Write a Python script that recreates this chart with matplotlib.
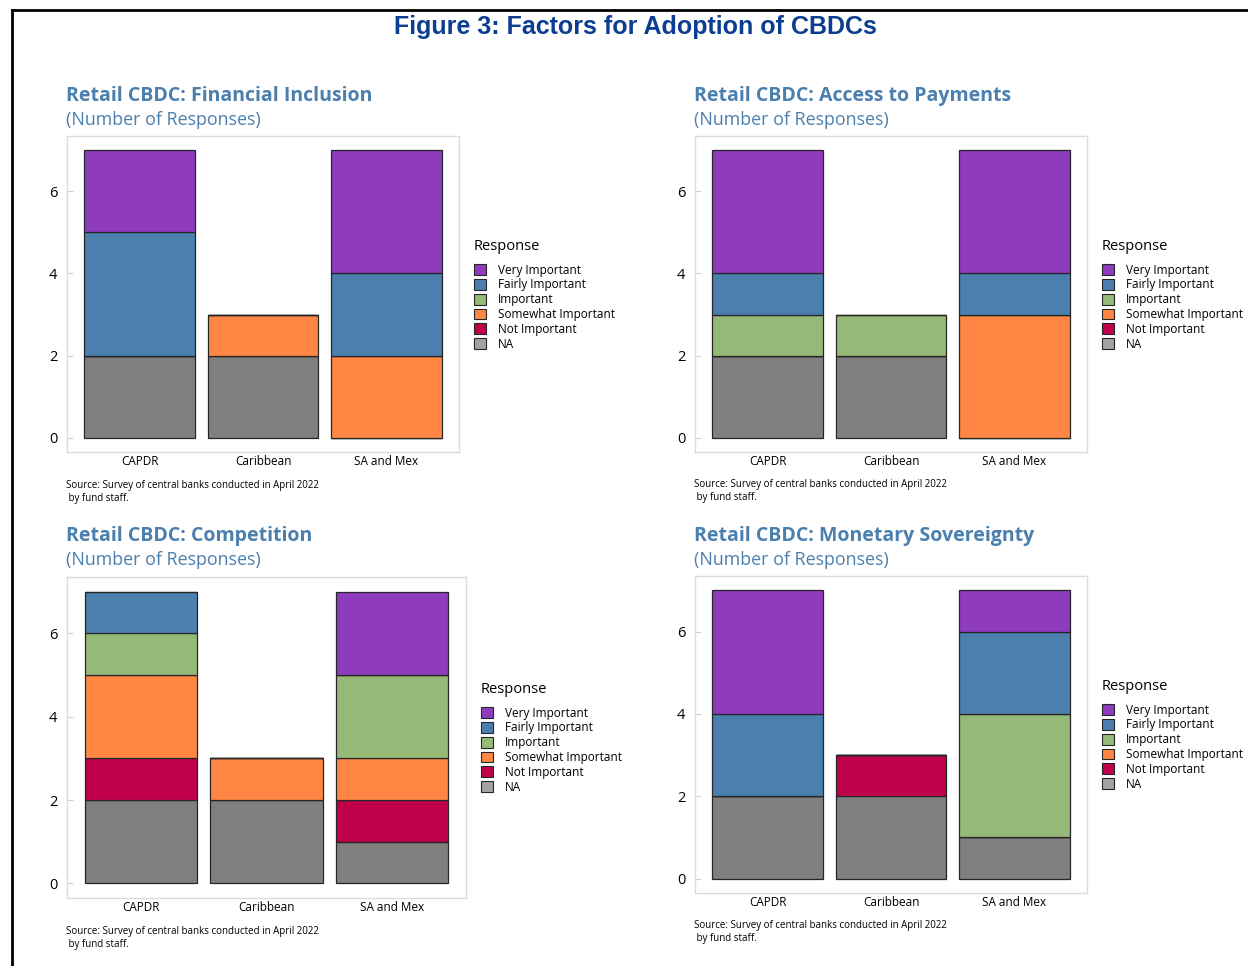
import matplotlib
matplotlib.use("Agg")
import matplotlib.pyplot as plt
from matplotlib.patches import Patch
from matplotlib.lines import Line2D

# data: number of responses per region, stacked bottom -> top
regions = ["CAPDR", "Caribbean", "SA and Mex"]
responses = ["NA", "Not Important", "Somewhat Important", "Important",
             "Fairly Important", "Very Important"]

inclusion_na = [2, 2, 0]
inclusion_not = [0, 0, 0]
inclusion_somewhat = [0, 1, 2]
inclusion_important = [0, 0, 0]
inclusion_fairly = [3, 0, 2]
inclusion_very = [2, 0, 3]

payments_na = [2, 2, 0]
payments_not = [0, 0, 0]
payments_somewhat = [0, 0, 3]
payments_important = [1, 1, 0]
payments_fairly = [1, 0, 1]
payments_very = [3, 0, 3]

competition_na = [2, 2, 1]
competition_not = [1, 0, 1]
competition_somewhat = [2, 1, 1]
competition_important = [1, 0, 2]
competition_fairly = [1, 0, 0]
competition_very = [0, 0, 2]

sovereignty_na = [2, 2, 1]
sovereignty_not = [0, 1, 0]
sovereignty_somewhat = [0, 0, 0]
sovereignty_important = [0, 0, 3]
sovereignty_fairly = [2, 0, 2]
sovereignty_very = [3, 0, 1]

colors = {
    "NA": "#7f7f7f",
    "Not Important": "#c0004a",
    "Somewhat Important": "#ff8743",
    "Important": "#96b978",
    "Fairly Important": "#4a7fae",
    "Very Important": "#8e3bbe",
}
legend_colors = dict(colors, NA="#a3a3a3")

W, H = 1248, 966
TITLE_BLUE = "#4a7fae"
FONT = "Open Sans"

fig = plt.figure(figsize=(W / 100, H / 100), dpi=100)


def fx(x):
    return x / W


def fy(y):
    return 1 - y / H


def panel(box, title, series, title_xy, legend_xy, source_xy):
    x0, y0, x1, y1 = box
    ax = fig.add_axes([fx(x0), fy(y1), (x1 - x0) / W, (y1 - y0) / H])
    bottom = [0, 0, 0]
    for name, vals in zip(responses, series):
        ax.bar(regions, vals, bottom=bottom, width=0.9, color=colors[name],
               edgecolor="#262626", linewidth=0.9)
        bottom = [b + v for b, v in zip(bottom, vals)]
    ax.set_xlim(-0.59, 2.59)
    ax.set_ylim(-0.35, 7.35)
    ax.set_yticks([0, 2, 4, 6])
    for s in ax.spines.values():
        s.set_color("#dcdcdc")
        s.set_linewidth(1)
    ax.tick_params(axis="y", direction="in", length=4, width=0.8,
                   color="#d0d0d0", pad=7, labelsize=10.5)
    ax.tick_params(axis="x", length=0, pad=2.5, labelsize=8.5)
    for lab in ax.get_xticklabels() + ax.get_yticklabels():
        lab.set_fontfamily(FONT)

    tx, ty = title_xy
    fig.text(fx(tx), fy(ty), title, color=TITLE_BLUE, fontsize=14,
             fontweight="bold", family=FONT, ha="left", va="center")
    fig.text(fx(tx), fy(ty + 24), "(Number of Responses)", color=TITLE_BLUE,
             fontsize=12.9, family=FONT, ha="left", va="center")

    handles = [Patch(facecolor=legend_colors[n], edgecolor="#262626",
                     linewidth=0.8, label=n) for n in reversed(responses)]
    leg = fig.legend(handles=handles, loc="upper left",
                     bbox_to_anchor=(fx(legend_xy[0]), fy(legend_xy[1])),
                     frameon=False, title="Response", alignment="left",
                     handlelength=1.0, handleheight=1.0, handletextpad=1.0,
                     labelspacing=0.15, borderaxespad=0, borderpad=0,
                     prop={"family": FONT, "size": 8.5})
    leg.get_title().set_fontfamily(FONT)
    leg.get_title().set_fontsize(10.5)
    leg._legend_box.sep = 7

    sx, sy = source_xy
    fig.text(fx(sx), fy(sy), "Source: Survey of central banks conducted in April 2022\n by fund staff.",
             fontsize=7, family=FONT, ha="left", va="top", linespacing=1.2)
    return ax


panel((67, 136, 459, 452), "Retail CBDC: Financial Inclusion",
      [inclusion_na, inclusion_not, inclusion_somewhat, inclusion_important,
       inclusion_fairly, inclusion_very],
      (66, 96), (474, 239), (66, 480))

panel((695, 136, 1087, 452), "Retail CBDC: Access to Payments",
      [payments_na, payments_not, payments_somewhat, payments_important,
       payments_fairly, payments_very],
      (694, 96), (1102, 239), (694, 479))

panel((67, 577, 466, 898), "Retail CBDC: Competition",
      [competition_na, competition_not, competition_somewhat,
       competition_important, competition_fairly, competition_very],
      (66, 536), (481, 682), (66, 926))

panel((695, 576, 1087, 893), "Retail CBDC: Monetary Sovereignty",
      [sovereignty_na, sovereignty_not, sovereignty_somewhat,
       sovereignty_important, sovereignty_fairly, sovereignty_very],
      (694, 536), (1102, 679), (694, 920))

fig.text(fx(635), fy(27), "Figure 3: Factors for Adoption of CBDCs",
         color="#0b3d91", fontsize=18, fontweight="bold",
         family="Liberation Sans", ha="center", va="center")

# page frame
fig.add_artist(Line2D([fx(12), fx(12)], [fy(10), 0], color="black", lw=2))
fig.add_artist(Line2D([fx(12), 1], [fy(10), fy(10)], color="black", lw=2))

fig.savefig("out.png", dpi=100)
